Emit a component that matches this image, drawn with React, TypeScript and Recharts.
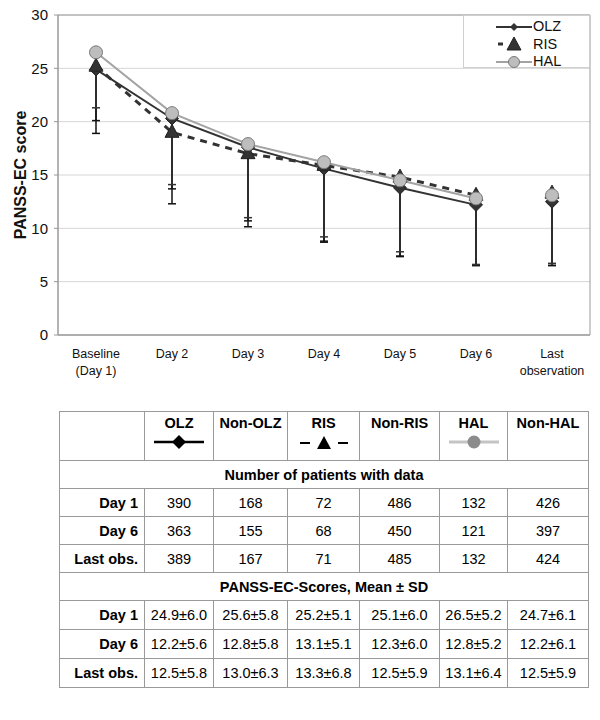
import React from 'react'
import {
  LineChart, Line, XAxis, YAxis, CartesianGrid, ErrorBar, ReferenceArea,
} from 'recharts'

const FONT = '"Liberation Sans", Arial, sans-serif'

// x categories
const days = ['Baseline\n(Day 1)', 'Day 2', 'Day 3', 'Day 4', 'Day 5', 'Day 6', 'Last\nobservation']
// mean PANSS-EC per group
const olzMean = [24.9, 20.3, 17.6, 15.6, 13.8, 12.2, 12.5]
const risMean = [25.2, 19.0, 17.0, 15.9, 14.8, 13.1, 13.3]
const halMean = [26.5, 20.8, 17.9, 16.2, 14.5, 12.8, 13.1]
// lower end of the whisker (mean - SD), only the lower half is drawn
const olzLow = [18.9, 12.3, 10.15, 8.7, 7.35, 6.6, 6.7]
const risLow = [20.1, 13.7, 10.7, 8.8, 7.4, 6.5, 6.5]
const halLow = [21.3, 14.1, 11.0, 9.2, 7.8, 6.6, 6.7]
const yTicks = [0, 5, 10, 15, 20, 25, 30]

// table below the chart
const tableCols = ['OLZ', 'Non-OLZ', 'RIS', 'Non-RIS', 'HAL', 'Non-HAL']
const rowLabels = ['Day 1', 'Day 6', 'Last obs.']
const countsDay1 = ['390', '168', '72', '486', '132', '426']
const countsDay6 = ['363', '155', '68', '450', '121', '397']
const countsLast = ['389', '167', '71', '485', '132', '424']
const scoresDay1 = ['24.9±6.0', '25.6±5.8', '25.2±5.1', '25.1±6.0', '26.5±5.2', '24.7±6.1']
const scoresDay6 = ['12.2±5.6', '12.8±5.8', '13.1±5.1', '12.3±6.0', '12.8±5.2', '12.2±6.1']
const scoresLast = ['12.5±5.8', '13.0±6.3', '13.3±6.8', '12.5±5.9', '13.1±6.4', '12.5±5.9']

const series = [
  { key: 'olz', name: 'OLZ', mean: olzMean, low: olzLow, stroke: '#333', width: 2, dash: undefined as string | undefined, err: '#111', marker: 'diamond' },
  { key: 'ris', name: 'RIS', mean: risMean, low: risLow, stroke: '#333', width: 3, dash: '7 6', err: '#111', marker: 'triangle' },
  { key: 'hal', name: 'HAL', mean: halMean, low: halLow, stroke: '#a3a3a3', width: 2, dash: undefined as string | undefined, err: '#333', marker: 'circle' },
]

const LAST = days.length - 1
const centerTicks = days.map((_, i) => i)
const boundTicks = [...days.map((_, i) => i - 0.5), LAST + 0.5]

// Day 1..6 are joined, the last observation stands on its own
const data = days.map((day, i) => {
  const row: Record<string, any> = { day, idx: i }
  series.forEach((s) => {
    const err = [+(s.mean[i] - s.low[i]).toFixed(2), 0]
    if (i < LAST) {
      row[s.key] = s.mean[i]
      row[s.key + 'Err'] = err
    } else {
      row[s.key + 'Last'] = s.mean[i]
      row[s.key + 'LastErr'] = err
    }
  })
  return row
})

function markerShape(kind: string, cx: number, cy: number, key?: any) {
  if (kind === 'diamond') {
    return <polygon key={key} points={`${cx},${cy - 6.5} ${cx + 6.5},${cy} ${cx},${cy + 6.5} ${cx - 6.5},${cy}`} fill="#333" stroke="#222" strokeWidth={1} />
  }
  if (kind === 'triangle') {
    return <polygon key={key} points={`${cx},${cy - 8} ${cx + 7},${cy + 5} ${cx - 7},${cy + 5}`} fill="#333" stroke="#222" strokeWidth={1} />
  }
  return <circle key={key} cx={cx} cy={cy} r={6.5} fill="#bdbdbd" stroke="#7a7a7a" strokeWidth={1} />
}

const makeDot = (kind: string) => (p: any) => {
  if (p.cx == null || p.cy == null || p.value == null) return <g key={p.key ?? p.index} />
  return markerShape(kind, p.cx, p.cy, p.key ?? p.index)
}

const XTick = ({ x, y, payload }: any) => {
  const lines = String(days[payload.value] ?? '').split('\n')
  return (
    <text x={x} y={y + 2} textAnchor="middle" fontSize={12.5} fill="#111" fontFamily={FONT}>
      {lines.map((l, i) => (
        <tspan key={i} x={x} dy={i === 0 ? '0.9em' : 17}>{l}</tspan>
      ))}
    </text>
  )
}

function LegendIcon({ kind }: { kind: string }) {
  const s = series.find((q) => q.marker === kind)!
  return (
    <svg width={36} height={14} style={{ display: 'block' }}>
      {kind === 'triangle' ? (
        <>
          <line x1={2} x2={7} y1={7} y2={7} stroke="#333" strokeWidth={3} />
          {markerShape(kind, 18, 8)}
        </>
      ) : (
        <>
          <line x1={0} x2={36} y1={7} y2={7} stroke={s.stroke} strokeWidth={2} />
          {kind === 'diamond'
            ? <polygon points="18,3 22,7 18,11 14,7" fill="#333" />
            : <circle cx={18} cy={7} r={5.5} fill="#bdbdbd" stroke="#7a7a7a" />}
        </>
      )}
    </svg>
  )
}

function HeaderIcon({ kind }: { kind: string }) {
  if (kind === 'diamond') {
    return (
      <svg width={52} height={16}>
        <line x1={1} x2={51} y1={8} y2={8} stroke="#000" strokeWidth={2.5} />
        <polygon points="26,1 33,8 26,15 19,8" fill="#000" />
      </svg>
    )
  }
  if (kind === 'triangle') {
    return (
      <svg width={52} height={16}>
        <line x1={2} x2={12} y1={9} y2={9} stroke="#000" strokeWidth={2} />
        <polygon points="26,2 33,15 19,15" fill="#000" />
        <line x1={40} x2={50} y1={9} y2={9} stroke="#000" strokeWidth={2} />
      </svg>
    )
  }
  return (
    <svg width={52} height={16}>
      <line x1={1} x2={51} y1={8} y2={8} stroke="#c4c4c4" strokeWidth={3} />
      <circle cx={26} cy={8} r={6.5} fill="#8c8c8c" />
    </svg>
  )
}

const colWidths = [85, 69, 74, 72, 80, 68, 81]
const border = '1px solid #9a9a9a'
const cell: React.CSSProperties = { border, textAlign: 'center', padding: 0, fontSize: 14.5 }
const labelCell: React.CSSProperties = { ...cell, textAlign: 'right', fontWeight: 'bold', paddingRight: 6, whiteSpace: 'nowrap' }

function DataTable() {
  const iconFor = ['diamond', null, 'triangle', null, 'circle', null]
  const block = (title: string, rows: string[][], h: number) => (
    <>
      <tr style={{ height: 28 }}>
        <td colSpan={7} style={{ ...cell, fontWeight: 'bold' }}>{title}</td>
      </tr>
      {rows.map((r, i) => (
        <tr key={title + i} style={{ height: h }}>
          <td style={labelCell}>{rowLabels[i]}</td>
          {r.map((v, j) => <td key={j} style={cell}>{v}</td>)}
        </tr>
      ))}
    </>
  )
  return (
    <table style={{ position: 'absolute', left: 59, top: 411, width: 529, borderCollapse: 'collapse', tableLayout: 'fixed', fontFamily: FONT, color: '#000' }}>
      <colgroup>
        {colWidths.map((w, i) => <col key={i} style={{ width: w }} />)}
      </colgroup>
      <tbody>
        <tr style={{ height: 49 }}>
          <td style={cell} />
          {tableCols.map((c, j) => (
            <td key={c} style={{ ...cell, verticalAlign: 'top', fontWeight: 'bold', paddingTop: 3 }}>
              <div>{c}</div>
              {iconFor[j] && <div style={{ marginTop: 3, lineHeight: 0 }}><HeaderIcon kind={iconFor[j]!} /></div>}
            </td>
          ))}
        </tr>
        {block('Number of patients with data', [countsDay1, countsDay6, countsLast], 28)}
        {block('PANSS-EC-Scores, Mean ± SD', [scoresDay1, scoresDay6, scoresLast], 29)}
      </tbody>
    </table>
  )
}

export default function App() {
  return (
    <div style={{ position: 'relative', width: 600, height: 720, background: '#fff', fontFamily: FONT }}>
      <style>{'body{margin:0;background:#fff}'}</style>
      <LineChart width={600} height={390} data={data} margin={{ top: 15, right: 10, bottom: 0, left: 0 }}>
        <CartesianGrid horizontal vertical={false} stroke="#d6d6d6" />
        <XAxis xAxisId="bounds" dataKey="idx" type="number" domain={[-0.5, LAST + 0.5]} allowDataOverflow
          ticks={boundTicks} tick={false} height={0}
          axisLine={false} tickLine={{ stroke: '#999' }} tickSize={5} />
        <XAxis xAxisId="x" dataKey="idx" type="number" domain={[-0.5, LAST + 0.5]} allowDataOverflow
          ticks={centerTicks} interval={0} height={55}
          tickLine={false} axisLine={{ stroke: '#999' }} tick={<XTick />} tickMargin={4} />
        <YAxis domain={[0, 30]} ticks={yTicks} width={58} interval={0}
          tick={{ fill: '#111', fontSize: 15, fontFamily: FONT }}
          tickLine={{ stroke: '#999' }} tickSize={4} tickMargin={6}
          axisLine={{ stroke: '#999' }}
          label={{ value: 'PANSS-EC score', angle: -90, position: 'insideLeft', offset: 20,
            style: { fontSize: 16, fontWeight: 'bold', fill: '#111', fontFamily: FONT, textAnchor: 'middle' } }} />
        <ReferenceArea xAxisId="bounds" x1={-0.5} x2={LAST + 0.5} y1={0} y2={30} fill="none" stroke="#9a9a9a" strokeWidth={1} ifOverflow="visible" />
        {series.map((s) => (
          <Line key={s.key} xAxisId="x" dataKey={s.key} name={s.name} stroke={s.stroke}
            strokeWidth={s.width} strokeDasharray={s.dash} dot={makeDot(s.marker)} activeDot={false}
            isAnimationActive={false} connectNulls={false}>
            <ErrorBar dataKey={s.key + 'Err'} width={4} stroke={s.err} strokeWidth={1.5} direction="y" />
          </Line>
        ))}
        {series.map((s) => (
          <Line key={s.key + 'Last'} xAxisId="x" dataKey={s.key + 'Last'} name={s.name} stroke="none"
            dot={makeDot(s.marker)} activeDot={false} legendType="none" isAnimationActive={false}>
            <ErrorBar dataKey={s.key + 'LastErr'} width={4} stroke={s.err} strokeWidth={1.5} direction="y" />
          </Line>
        ))}
      </LineChart>

      {/* legend box, top-right of the plot */}
      <div style={{ position: 'absolute', left: 463, top: 15, width: 127, height: 53, border: '1px solid #cfcfcf', background: '#fff', paddingTop: 2, boxSizing: 'border-box' }}>
        {series.map((s) => (
          <div key={s.key} style={{ display: 'flex', alignItems: 'center', height: 17.5, paddingLeft: 32 }}>
            <LegendIcon kind={s.marker} />
            <span style={{ fontSize: 14.5, marginLeft: 1, color: '#111', lineHeight: '17px' }}>{s.name}</span>
          </div>
        ))}
      </div>

      <DataTable />
    </div>
  )
}
